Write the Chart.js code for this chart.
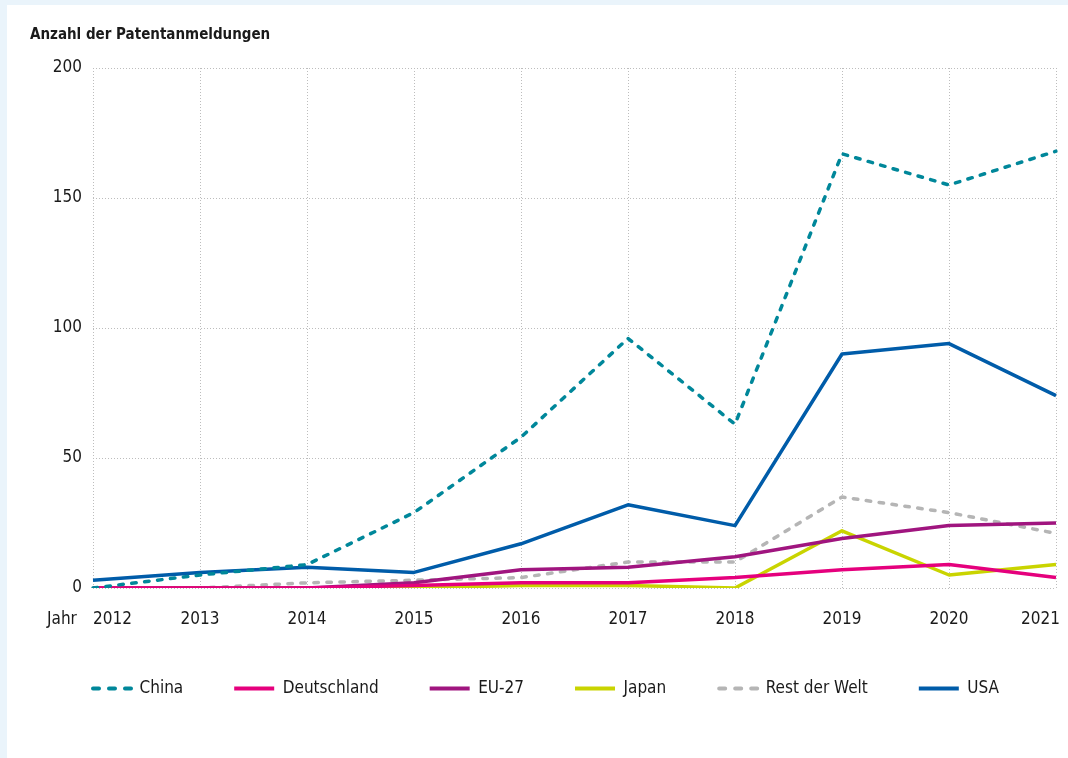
<!DOCTYPE html>
<html>
<head>
<meta charset="utf-8">
<script src="https://cdn.jsdelivr.net/npm/chart.js@4.4.1/dist/chart.umd.min.js"></script>
<style>
  html, body { margin: 0; padding: 0; background: #eaf4fb; }
  #panel { position: absolute; left: 7px; top: 5px; width: 1061px; height: 753px; background: #fff; }
  #wrap { position: absolute; left: 0; top: 0; width: 1068px; height: 758px; }
</style>
</head>
<body>
<div id="panel"></div>
<div id="wrap"><canvas id="grafik"></canvas></div>
<script>
const jahre = ['2012', '2013', '2014', '2015', '2016', '2017', '2018', '2019', '2020', '2021'];
const china = [0, 5, 9, 29, 58, 96, 63, 167, 155, 168];
const deutschland = [0, 0, 0, 1, 2, 2, 4, 7, 9, 4];
const eu27 = [0, 0, 0, 2, 7, 8, 12, 19, 24, 25];
const japan = [0, 0, 0, 0, 1, 1, 0, 22, 5, 9];
const restDerWelt = [0, 0, 2, 3, 4, 10, 10, 35, 29, 21];
const usa = [3, 6, 8, 6, 17, 32, 24, 90, 94, 74];

const schrift = '"DejaVu Sans Condensed", "DejaVu Sans", sans-serif';
const textFarbe = '#1a1a1a';
const strich = [4.5, 8.5];

// Titel, "Jahr" und Jahreszahlen (am Rand bündig wie im Original)
const beschriftung = {
  id: 'beschriftung',
  afterDraw(chart) {
    const ctx = chart.ctx;
    const xs = chart.scales.x;
    const area = chart.chartArea;
    ctx.save();
    ctx.fillStyle = textFarbe;
    ctx.textBaseline = 'middle';
    ctx.textAlign = 'left';
    ctx.font = 'bold 15px ' + schrift;
    ctx.fillText('Anzahl der Patentanmeldungen', 30, 35);
    ctx.font = '17px ' + schrift;
    ctx.fillText('Jahr', 47, 620);
    jahre.forEach((j, i) => {
      const px = xs.getPixelForValue(i);
      const w = ctx.measureText(j).width;
      let left = px - w / 2;
      left = Math.max(left, area.left);
      left = Math.min(left, area.right + 4 - w);
      ctx.fillText(j, left, 620);
    });
    ctx.restore();
  }
};

function linie(label, data, farbe, gestrichelt) {
  return {
    label: label,
    data: data,
    borderColor: farbe,
    backgroundColor: farbe,
    borderWidth: 3.5,
    borderDash: gestrichelt ? strich : [],
    borderCapStyle: gestrichelt ? 'round' : 'butt',
    borderJoinStyle: 'round',
    pointRadius: 0,
    tension: 0,
    fill: false
  };
}

new Chart(document.getElementById('grafik'), {
  type: 'line',
  data: {
    labels: jahre,
    datasets: [
      linie('China', china, '#00879a', true),
      linie('Deutschland', deutschland, '#e5007d', false),
      linie('EU-27', eu27, '#a0157f', false),
      linie('Japan', japan, '#c9d400', false),
      linie('Rest der Welt', restDerWelt, '#b5b5b5', true),
      linie('USA', usa, '#005ca9', false)
    ]
  },
  options: {
    responsive: true,
    maintainAspectRatio: false,
    animation: false,
    layout: { padding: { top: 68, left: 40, right: 12, bottom: 51 } },
    scales: {
      x: {
        type: 'category',
        offset: false,
        ticks: { display: false },
        grid: { color: '#bdbdbd', lineWidth: 1, drawTicks: false },
        border: { display: false, dash: [1, 2] },
        afterFit(s) { s.height = 41; }
      },
      y: {
        min: 0,
        max: 200,
        ticks: {
          stepSize: 50,
          padding: 11,
          color: textFarbe,
          font: { family: schrift, size: 17 }
        },
        grid: { color: '#bdbdbd', lineWidth: 1, drawTicks: false },
        border: { display: false, dash: [1, 2] },
        afterFit(s) { s.width = 53; }
      }
    },
    plugins: {
      legend: {
        position: 'bottom',
        align: 'start',
        labels: {
          usePointStyle: true,
          pointStyle: 'line',
          pointStyleWidth: 40,
          boxHeight: 17,
          padding: 51,
          color: textFarbe,
          font: { family: schrift, size: 17 },
          generateLabels(chart) {
            const items = Chart.defaults.plugins.legend.labels.generateLabels(chart);
            items.forEach(it => {
              const ds = chart.data.datasets[it.datasetIndex];
              it.lineDash = ds.borderDash.length ? [6, 10] : [];
              it.lineCap = ds.borderCapStyle;
              it.lineDashOffset = -2;
              it.lineWidth = 4;
              it.strokeStyle = ds.borderColor;
            });
            return items;
          }
        }
      },
      tooltip: { enabled: false }
    }
  },
  plugins: [beschriftung]
});
</script>
</body>
</html>
